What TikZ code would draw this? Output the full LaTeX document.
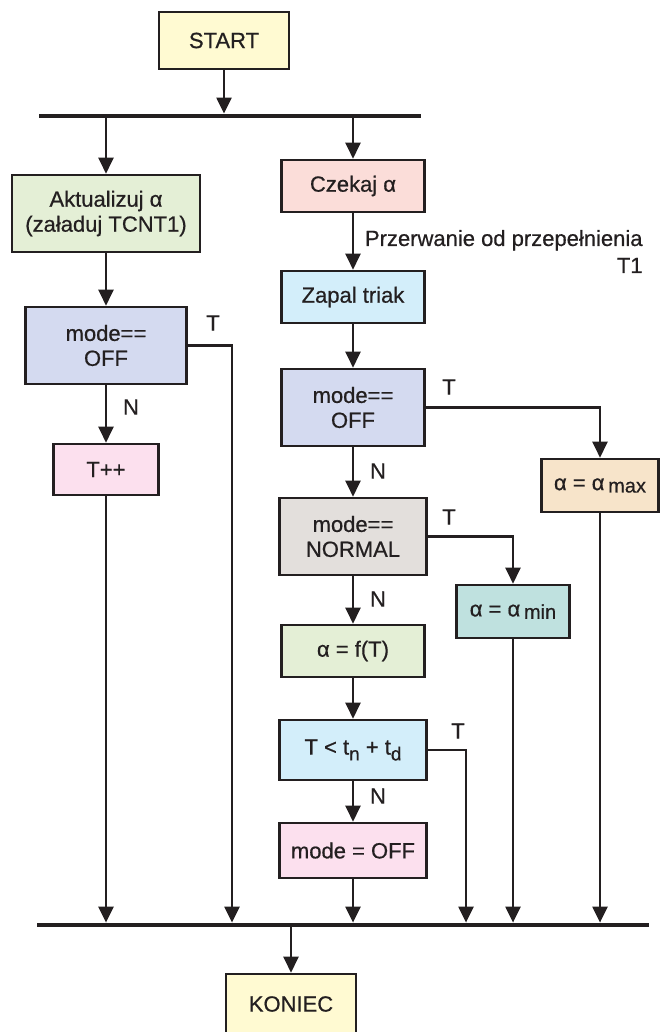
\documentclass[tikz,border=0pt]{standalone}
\usepackage{fontspec}
\setmainfont{Liberation Sans}[FakeBold=0.6]
\usetikzlibrary{arrows.meta}

\definecolor{inkblack}{HTML}{231F20}
\definecolor{fillstart}{HTML}{FFFAD2}
\definecolor{fillgreen}{HTML}{E4EFD6}
\definecolor{fillrose}{HTML}{FBDDD9}
\definecolor{fillsky}{HTML}{D3EEFA}
\definecolor{filllilac}{HTML}{D4DAF0}
\definecolor{fillpink}{HTML}{FCE0EE}
\definecolor{fillgrey}{HTML}{E3DFDC}
\definecolor{fillpeach}{HTML}{F7E4CA}
\definecolor{fillteal}{HTML}{BFE1DF}

\newcommand{\lowsub}[1]{\raisebox{-0.5ex}{\fontsize{9.5}{9.5}\selectfont #1}}
\newcommand{\lowidx}[1]{\raisebox{-0.2ex}{\fontsize{10}{10}\selectfont #1}}

\tikzset{
    box/.style={rectangle, draw=inkblack, line width=1.3pt, align=center, inner sep=0pt,
                text=inkblack, font=\fontsize{11}{12.5}\selectfont},
    flow/.style={-{Triangle[length=8pt,width=7.5pt]}, line width=1.15pt, draw=inkblack},
    bus/.style={line width=2.4pt, draw=inkblack},
    lbl/.style={inner sep=0pt, text=inkblack, font=\fontsize{11}{12.5}\selectfont}
}

\def\xl{106}
\def\xr{353}

\begin{document}
\begin{tikzpicture}[x=0.5pt, y=-0.5pt]
    \useasboundingbox (0,0) rectangle (667,1032);

    \coordinate (top_w) at (39,116);
    \coordinate (top_e) at (421,116);
    \coordinate (bot_w) at (37,925);
    \coordinate (bot_e) at (649,925);
    \coordinate (drop_off) at (232,925);
    \coordinate (drop_cmp) at (466,925);

    \node[box, fill=fillstart, minimum width=65pt, minimum height=28.5pt] (start) at (224, 40.5) {START};

    \node[box, fill=fillgreen, minimum width=94pt, minimum height=38.5pt] (update) at (\xl, 213.5)
      {Aktualizuj α\\(załaduj TCNT1)};
    \node[box, fill=filllilac, minimum width=80.5pt, minimum height=38.5pt] (off_l) at (\xl, 345.5)
      {mode==\\OFF};
    \node[box, fill=fillpink, minimum width=52.5pt, minimum height=25.5pt] (tinc) at (\xl, 469.5) {T++};

    \node[box, fill=fillrose, minimum width=71.5pt, minimum height=26pt] (wait) at (\xr, 186) {Czekaj α};
    \node[box, fill=fillsky, minimum width=71.5pt, minimum height=26pt] (fire) at (\xr, 297) {Zapal triak};
    \node[box, fill=filllilac, minimum width=71.5pt, minimum height=38.5pt] (off_r) at (\xr, 407.5)
      {mode==\\OFF};
    \node[box, fill=fillgrey, minimum width=73.5pt, minimum height=38.5pt] (normal) at (\xr, 536.5)
      {mode==\\NORMAL};
    \node[box, fill=fillgreen, minimum width=71.5pt, minimum height=26pt] (calc) at (\xr, 651) {α = f(T)};
    \node[box, fill=fillsky, minimum width=73.5pt, minimum height=30pt] (cmp) at (\xr, 750)
      {T < t\lowsub{n} + t\lowsub{d}};
    \node[box, fill=fillpink, minimum width=73.5pt, minimum height=27.5pt] (set_off) at (\xr, 850.5)
      {mode = OFF};

    \node[box, fill=fillpeach, minimum width=58.5pt, minimum height=26.5pt] (a_max) at (600, 485.5)
      {α = α\,\lowidx{max}};
    \node[box, fill=fillteal, minimum width=56.5pt, minimum height=26.5pt] (a_min) at (513, 611.5)
      {α = α\,\lowidx{min}};

    \node[box, fill=fillstart, minimum width=65pt, minimum height=30pt] (koniec) at (291, 1004) {KONIEC};

    \node[lbl, align=right, anchor=east, font=\fontsize{11}{13.5}\selectfont] (irq) at (643, 251.5)
      {Przerwanie od przepełnienia\\T1};
    \node[lbl] (t_off_l) at (213, 323) {T};
    \node[lbl] (t_off_r) at (449, 387) {T};
    \node[lbl] (t_normal) at (449, 517) {T};
    \node[lbl] (t_cmp) at (458, 731) {T};
    \node[lbl] (n_off_l) at (131, 407) {N};
    \node[lbl] (n_off_r) at (378, 471) {N};
    \node[lbl] (n_normal) at (378, 599) {N};
    \node[lbl] (n_cmp) at (378, 796) {N};

    \draw[bus] (top_w) -- (top_e);
    \draw[bus] (bot_w) -- (bot_e);

    \draw[flow] (start) -- ([yshift=1.2pt]start |- top_w);
    \draw[flow] (update |- top_w) -- (update);
    \draw[flow] (wait |- top_w) -- (wait);
    \draw[flow] (update) -- (off_l);
    \draw[flow] (off_l) -- (tinc);
    \draw[flow] (off_l.east) -| ([yshift=1.2pt]drop_off);
    \draw[flow] (tinc) -- ([yshift=1.2pt]tinc |- bot_w);
    \draw[flow] (wait) -- (fire);
    \draw[flow] (fire) -- (off_r);
    \draw[flow] (off_r.east) -| (a_max.north);
    \draw[flow] (off_r) -- (normal);
    \draw[flow] (normal.east) -| (a_min.north);
    \draw[flow] (normal) -- (calc);
    \draw[flow] (calc) -- (cmp);
    \draw[flow] (cmp) -- (set_off);
    \draw[flow] (cmp.east) -| ([yshift=1.2pt]drop_cmp);
    \draw[flow] (set_off) -- ([yshift=1.2pt]set_off |- bot_w);
    \draw[flow] (a_min) -- ([yshift=1.2pt]a_min |- bot_w);
    \draw[flow] (a_max) -- ([yshift=1.2pt]a_max |- bot_w);
    \draw[flow] (koniec |- bot_w) -- (koniec);
  \end{tikzpicture}
\end{document}
